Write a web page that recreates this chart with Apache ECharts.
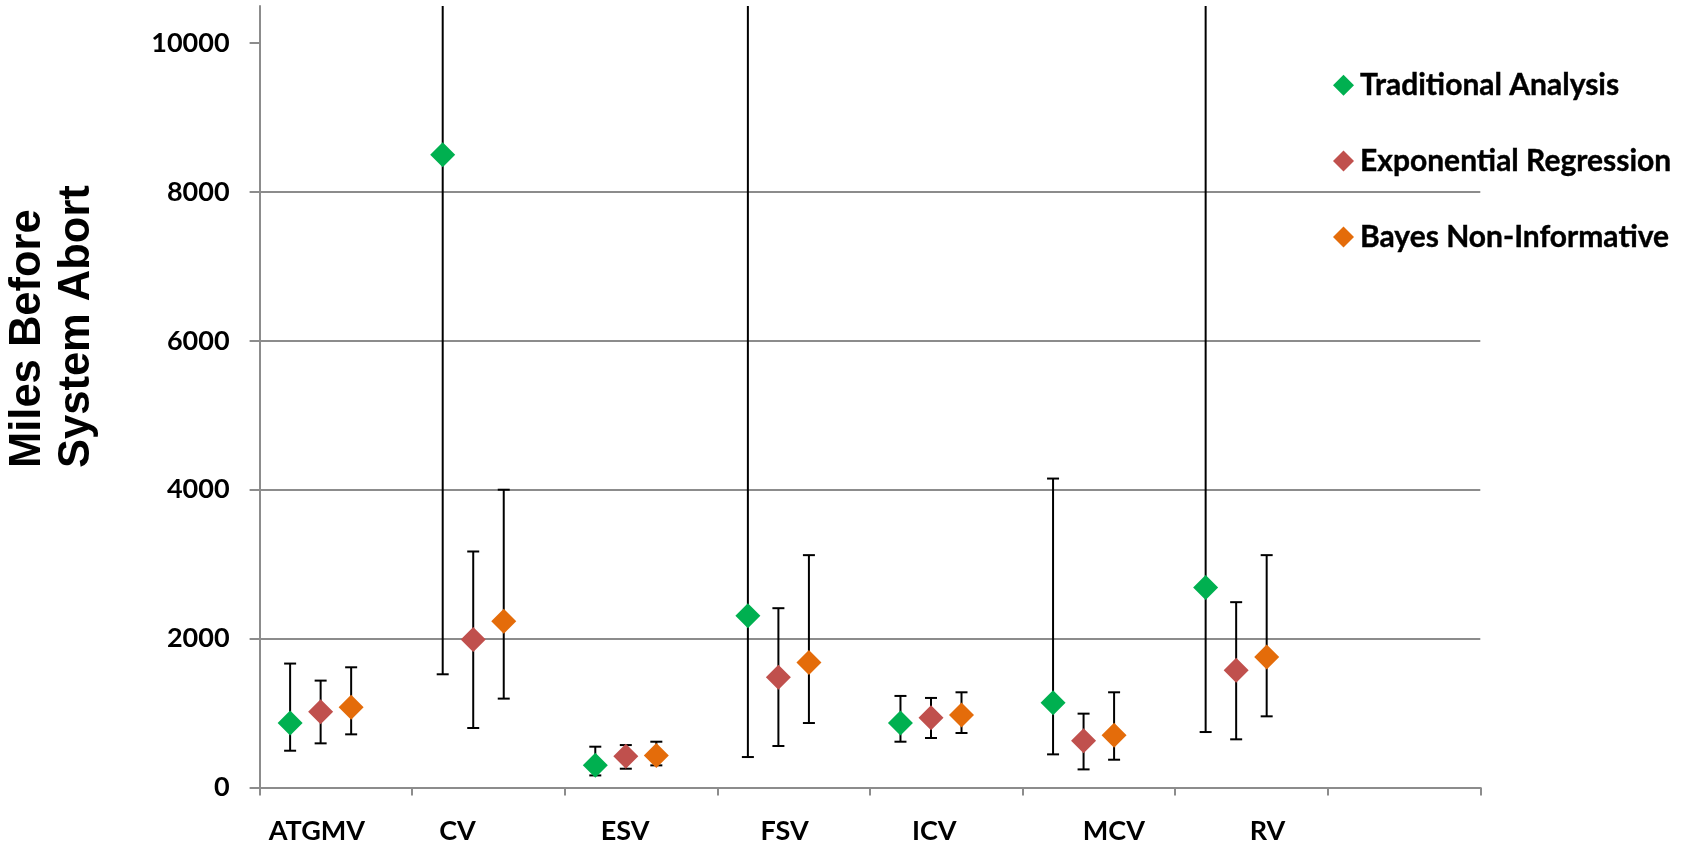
<!DOCTYPE html>
<html>
<head>
<meta charset="utf-8">
<script src="https://cdn.jsdelivr.net/npm/echarts@6/dist/echarts.min.js"></script>
<style>
html,body{margin:0;padding:0;background:#fff;}
#chart{width:1682px;height:845px;}
</style>
</head>
<body>
<div id="chart"></div>
<script>
// ---- data ----
const categories = ['ATGMV', 'CV', 'ESV', 'FSV', 'ICV', 'MCV', 'RV'];
const yTicks = [0, 2000, 4000, 6000, 8000, 10000];

const traditional     = [865, 8500, 296, 2305, 865, 1139, 2686];
const traditionalLow  = [493, 1520, 161, 408, 614, 444, 744];
const traditionalHigh = [1664, 15000, 547, 15000, 1229, 4150, 15000];

const exponential     = [1018, 1986, 417, 1480, 937, 628, 1574];
const exponentialLow  = [592, 798, 251, 556, 664, 242, 646];
const exponentialHigh = [1435, 3170, 569, 2408, 1202, 991, 2489];

const bayes     = [1076, 2233, 430, 1677, 973, 700, 1753];
const bayesLow  = [713, 1193, 296, 865, 731, 372, 955];
const bayesHigh = [1614, 4000, 614, 3121, 1278, 1278, 3121];

const seriesNames = ['Traditional Analysis', 'Exponential Regression', 'Bayes Non-Informative'];

// ---- styling / layout ----
const colors = ['#00B050', '#C0504D', '#E46C0A'];
const offsets = [0.2, 0.4, 0.6];            // position inside each category band
const labelShift = [-19, -31, -16, -9, -12, 15, 16, 0];
const FONT = 'Lato';
const GRAY = '#8c8c8c';

const groups = [
  [traditional, traditionalLow, traditionalHigh],
  [exponential, exponentialLow, exponentialHigh],
  [bayes, bayesLow, bayesHigh]
];

function errRender(params, api) {
  const x = api.value(0), lo = api.value(1), hi = api.value(2);
  const pTop = api.coord([x, hi]);
  const pBot = api.coord([x, lo]);
  const cs = params.coordSys;
  const topY = Math.max(pTop[1], cs.y);
  const botY = Math.min(pBot[1], cs.y + cs.height);
  const st = { stroke: '#000', lineWidth: 2 };
  const hw = 6;
  const children = [
    { type: 'line', shape: { x1: pTop[0], y1: topY, x2: pTop[0], y2: botY }, style: st }
  ];
  if (pTop[1] >= cs.y) {
    children.push({ type: 'line', shape: { x1: pTop[0] - hw, y1: pTop[1], x2: pTop[0] + hw, y2: pTop[1] }, style: st });
  }
  children.push({ type: 'line', shape: { x1: pBot[0] - hw, y1: pBot[1], x2: pBot[0] + hw, y2: pBot[1] }, style: st });
  return { type: 'group', children: children };
}

const series = [];
groups.forEach(function (g, k) {
  series.push({
    name: seriesNames[k] + ' error',
    type: 'custom',
    xAxisIndex: 1,
    z: 2,
    renderItem: errRender,
    data: categories.map(function (c, i) { return [i + offsets[k], g[1][i], g[2][i]]; })
  });
});
groups.forEach(function (g, k) {
  series.push({
    name: seriesNames[k],
    type: 'scatter',
    xAxisIndex: 1,
    z: 5,
    symbol: 'diamond',
    symbolSize: 25,
    itemStyle: { color: colors[k], opacity: 1 },
    data: categories.map(function (c, i) { return [i + offsets[k], g[0][i]]; })
  });
});

const catData = categories.concat(['']).map(function (c, i) {
  const s = labelShift[i];
  return { value: c, textStyle: { padding: s < 0 ? [0, -2 * s, 0, 0] : [0, 0, 0, 2 * s] } };
});

const chart = echarts.init(document.getElementById('chart'), null, { renderer: 'canvas' });
chart.setOption({
  animation: false,
  backgroundColor: '#fff',
  grid: { left: 259.6, right: 201.7, top: 6, bottom: 57.6, containLabel: false },
  legend: {
    data: seriesNames,
    orient: 'vertical',
    left: 1328,
    top: 65,
    icon: 'diamond',
    itemWidth: 21,
    itemHeight: 21,
    itemGap: 45.5,
    itemStyle: { opacity: 1 },
    textStyle: {
      fontFamily: FONT, fontWeight: 'bold', fontSize: 30, color: '#000', lineHeight: 30,
      padding: [0, 0, 0, 1], textBorderColor: '#000', textBorderWidth: 0.4
    }
  },
  xAxis: [
    {
      type: 'category',
      data: catData,
      boundaryGap: true,
      axisLine: { show: true, lineStyle: { color: GRAY, width: 2 } },
      axisTick: { show: true, length: 8, interval: 0, lineStyle: { color: GRAY, width: 2 } },
      axisLabel: { interval: 0, margin: 30, fontFamily: FONT, fontWeight: 'bold', fontSize: 27, color: '#000' },
      splitLine: { show: false }
    },
    {
      type: 'value',
      min: 0,
      max: 8,
      show: false,
      splitLine: { show: false }
    }
  ],
  yAxis: {
    type: 'value',
    min: 0,
    max: 10500,
    interval: 2000,
    axisLine: { show: true, lineStyle: { color: GRAY, width: 2 } },
    axisTick: { show: true, length: 10, customValues: yTicks, lineStyle: { color: GRAY, width: 2 } },
    axisLabel: {
      margin: 30,
      customValues: yTicks,
      fontFamily: FONT, fontWeight: 'bold', fontSize: 27, color: '#000',
      formatter: function (v) { return (v % 2000 === 0) ? String(v) : ''; }
    },
    splitLine: { show: true, showMaxLine: false, lineStyle: { color: GRAY, width: 2 } }
  },
  graphic: [{
    type: 'text',
    x: 3.5,
    y: 468,
    rotation: Math.PI / 2,
    style: {
      text: 'Miles Before\nSystem Abort',
      font: 'bold 43.5px "Liberation Sans", Arial, sans-serif',
      lineHeight: 49,
      fill: '#000',
      align: 'left',
      verticalAlign: 'top'
    }
  }],
  series: series
});
</script>
</body>
</html>
